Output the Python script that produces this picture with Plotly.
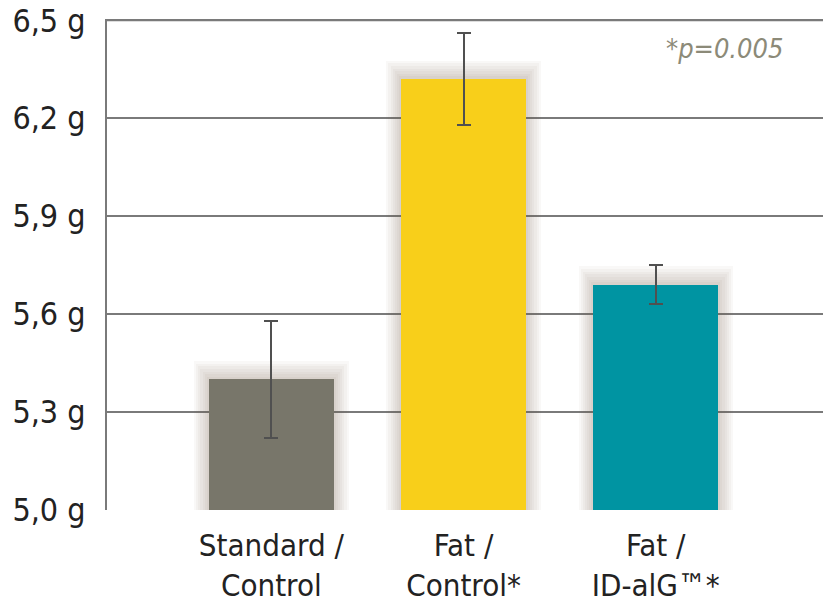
import plotly.graph_objects as go

categories = ["Standard /<br>Control", "Fat /<br>Control*", "Fat /<br>ID-alG™*"]
values = [5.40, 6.32, 5.69]
errors = [0.18, 0.14, 0.06]
colors = ["#78766a", "#f8cf1a", "#0094a2"]
tick_vals = [5.0, 5.3, 5.6, 5.9, 6.2, 6.5]
tick_text = ["5,0 g", "5,3 g", "5,6 g", "5,9 g", "6,2 g", "6,5 g"]

FONT = "DejaVu Sans Condensed, Liberation Sans Narrow, sans-serif"

fig = go.Figure()

# soft shadow behind bars
for k in range(7, 0, -1):
    fig.add_trace(go.Bar(
        x=list(range(len(values))), y=[v - 5.0 + 0.008 * k for v in values], base=5.0,
        width=0.65 + 0.022 * k, marker=dict(color="rgba(110,100,70,0.045)", line=dict(width=0)),
        hoverinfo="skip", showlegend=False))

fig.add_trace(go.Bar(
    x=list(range(len(values))), y=[v - 5.0 for v in values], base=5.0,
    width=0.65, marker=dict(color=colors, line=dict(width=0)),
    error_y=dict(type="data", array=errors, color="#505050", thickness=2, width=7),
    showlegend=False))

# top gridline
fig.add_shape(type="line", xref="paper", yref="y", x0=0, x1=1,
              y0=tick_vals[-1], y1=tick_vals[-1], layer="below",
              line=dict(color="#7a7a7a", width=2))

fig.update_layout(
    width=823, height=603,
    margin=dict(l=107, r=0, t=19, b=93, autoexpand=False),
    plot_bgcolor="white", paper_bgcolor="white",
    barmode="overlay", bargap=0,
    xaxis=dict(range=[-0.855, 2.87], tickvals=list(range(len(categories))),
               ticktext=categories, showgrid=False, zeroline=False,
               tickfont=dict(family=FONT, size=31, color="#222222"),
               ticks="", showline=False, ticklabelstandoff=14, automargin=False),
    yaxis=dict(range=[5.0, 6.504], tickvals=tick_vals, ticktext=tick_text,
               showgrid=True, gridcolor="#7a7a7a", gridwidth=2, zeroline=False,
               showline=True, linecolor="#7a7a7a", linewidth=2,
               tickfont=dict(family=FONT, size=32, color="#222222"),
               ticks="", ticklabelstandoff=13, ticklabeloverflow="allow",
               automargin=False),
    annotations=[dict(text="<i>*p=0.005</i>", x=0.947, y=0.94, xref="paper", yref="paper",
                      xanchor="right", yanchor="middle", showarrow=False,
                      font=dict(family=FONT, size=27, color="#8c8a78"))],
)

fig.write_html("out.html", config={"displayModeBar": False},
               post_script="document.body.style.margin='0';document.body.style.overflow='hidden';")
